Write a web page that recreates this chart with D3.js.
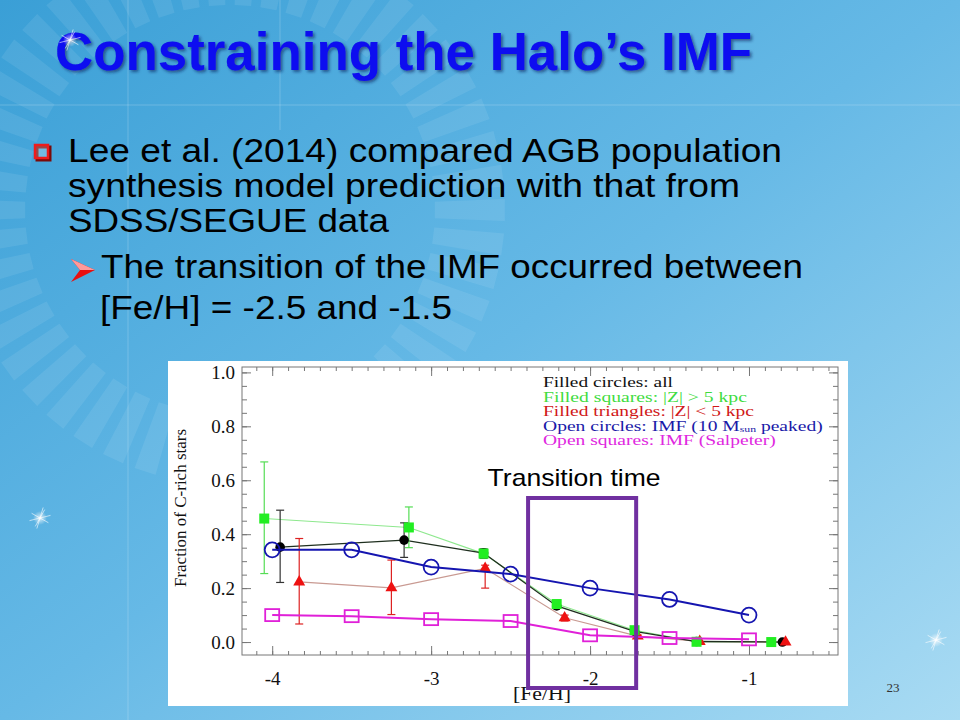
<!DOCTYPE html>
<html>
<head>
<meta charset="utf-8">
<script src="https://cdn.jsdelivr.net/npm/d3@7/dist/d3.min.js"></script>
<style>
  html, body { margin: 0; padding: 0; background: #fff; }
  svg { display: block; }
</style>
</head>
<body>
<svg id="slide" width="960" height="720"></svg>
<script>
// ---------------- DATA ----------------
const fehModel = [-4, -3.5, -3, -2.5, -2, -1.5, -1];
const imf10 = [0.342, 0.342, 0.278, 0.252, 0.200, 0.158, 0.100];
const imfSalpeter = [0.100, 0.096, 0.085, 0.078, 0.025, 0.015, 0.010];

const fehAll = [-3.95, -3.17, -2.67, -2.21, -1.72, -1.33, -0.79];
const fracAll = [0.352, 0.378, 0.330, 0.134, 0.040, 0.002, 0.000];
const fracAllLo = [0.221, 0.314, 0.312, 0.125, 0.035, 0.000, 0.000];
const fracAllHi = [0.489, 0.442, 0.345, 0.143, 0.045, 0.004, 0.001];

const fehHighZ = [-4.05, -3.14, -2.67, -2.21, -1.72, -1.33, -0.86];
const fracHighZ = [0.458, 0.425, 0.328, 0.141, 0.044, 0.001, 0.000];
const fracHighZLo = [0.254, 0.350, 0.310, 0.132, 0.036, 0.000, 0.000];
const fracHighZHi = [0.668, 0.501, 0.345, 0.150, 0.052, 0.004, 0.002];

const fehLowZ = [-3.83, -3.25, -2.66, -2.16, -1.70, -1.31, -0.77];
const fracLowZ = [0.223, 0.201, 0.273, 0.090, 0.022, 0.002, 0.000];
const fracLowZLo = [0.067, 0.102, 0.200, 0.078, 0.018, 0.000, 0.000];
const fracLowZHi = [0.384, 0.304, 0.285, 0.100, 0.026, 0.004, 0.001];

const xTicks = [-4, -3, -2, -1];
const yTicks = [0.0, 0.2, 0.4, 0.6, 0.8, 1.0];
const transitionRange = [-2.39, -1.71];

const legendLines = [
  {text: "Filled circles: all", color: "#111111", w: 130},
  {text: "Filled squares: |Z| > 5 kpc", color: "#3fdc3f", w: 204},
  {text: "Filled triangles: |Z| < 5 kpc", color: "#d01818", w: 211},
  {text: "Open circles: IMF (10 M", sub: "sun", after: " peaked)", color: "#1a1aa8", w: 280},
  {text: "Open squares: IMF (Salpeter)", color: "#e028e0", w: 233}
];

const titleText = "Constraining the Halo\u2019s IMF";
const bulletLines = [
  {text: "Lee et al. (2014) compared AGB population", x: 68, y: 162, w: 714},
  {text: "synthesis model prediction with that from", x: 68, y: 197, w: 672},
  {text: "SDSS/SEGUE data", x: 68, y: 232, w: 321},
  {text: "The transition of the IMF occurred between", x: 101, y: 278, w: 702},
  {text: "[Fe/H] = -2.5 and -1.5", x: 100, y: 319, w: 352}
];

// ---------------- SLIDE BACKGROUND ----------------
const svg = d3.select("#slide");
const defs = svg.append("defs");

const bg = defs.append("linearGradient").attr("id", "bg")
  .attr("x1", "0").attr("y1", "0").attr("x2", "1").attr("y2", "1");
bg.append("stop").attr("offset", "0").attr("stop-color", "#3a9fd6");
bg.append("stop").attr("offset", "0.5").attr("stop-color", "#66b9e6");
bg.append("stop").attr("offset", "1").attr("stop-color", "#a9dbf3");

const glow = defs.append("radialGradient").attr("id", "glow");
glow.append("stop").attr("offset", "0").attr("stop-color", "#ffffff").attr("stop-opacity", 1);
glow.append("stop").attr("offset", "0.3").attr("stop-color", "#ffffff").attr("stop-opacity", 0.55);
glow.append("stop").attr("offset", "1").attr("stop-color", "#ffffff").attr("stop-opacity", 0);

const shadow = defs.append("filter").attr("id", "tshadow")
  .attr("x", "-5%").attr("y", "-20%").attr("width", "110%").attr("height", "140%");
shadow.append("feGaussianBlur").attr("in", "SourceAlpha").attr("stdDeviation", 1.6).attr("result", "b");
shadow.append("feOffset").attr("in", "b").attr("dx", 2).attr("dy", 2).attr("result", "o");
shadow.append("feFlood").attr("flood-color", "#10205a").attr("flood-opacity", 0.6);
shadow.append("feComposite").attr("in2", "o").attr("operator", "in").attr("result", "s");
const m = shadow.append("feMerge");
m.append("feMergeNode").attr("in", "s");
m.append("feMergeNode").attr("in", "SourceGraphic");

svg.append("rect").attr("width", 960).attr("height", 720).attr("fill", "url(#bg)");

// faint sunburst rays
const rays = svg.append("g").attr("opacity", 0.08);
const cx0 = 230, cy0 = 210;
for (let i = 0; i < 50; i++) {
  const a = -Math.PI + i * (Math.PI * 2 / 50);
  const w = 0.04;
  const r1 = 205, r2 = 275;
  const pts = [
    [cx0 + r1 * Math.cos(a - w), cy0 + r1 * Math.sin(a - w)],
    [cx0 + r2 * Math.cos(a - w), cy0 + r2 * Math.sin(a - w)],
    [cx0 + r2 * Math.cos(a + w), cy0 + r2 * Math.sin(a + w)],
    [cx0 + r1 * Math.cos(a + w), cy0 + r1 * Math.sin(a + w)]
  ];
  rays.append("path").attr("d", "M" + pts.join("L") + "Z").attr("fill", "#ffffff");
}
// faint guide lines
const guides = svg.append("g").attr("stroke", "#ffffff").attr("stroke-opacity", 0.2).attr("stroke-width", 1);
guides.append("line").attr("x1", 128).attr("x2", 128).attr("y1", 0).attr("y2", 720);
guides.append("line").attr("x1", 280).attr("x2", 280).attr("y1", 0).attr("y2", 130);
guides.append("line").attr("x1", 0).attr("x2", 960).attr("y1", 105).attr("y2", 105);

// sparkles
function sparkle(x, y, s) {
  const g = svg.append("g").attr("transform", `translate(${x},${y})`);
  g.append("circle").attr("r", s).attr("fill", "url(#glow)");
  [[-1, 0.25], [0.3, -1], [0.8, 0.45], [-0.45, 0.8]].forEach(([dx, dy]) => {
    g.append("line").attr("x1", -dx * s * 1.5).attr("y1", -dy * s * 1.5)
      .attr("x2", dx * s * 1.5).attr("y2", dy * s * 1.5)
      .attr("stroke", "#ffffff").attr("stroke-opacity", 0.6).attr("stroke-width", 1);
  });
}

// ---------------- TITLE & BULLETS ----------------
svg.append("text").attr("x", 55).attr("y", 70)
  .attr("font-family", "Liberation Sans, Arial, sans-serif").attr("font-weight", "bold")
  .attr("font-size", 53).attr("fill", "#0a0af0")
  .attr("textLength", 697).attr("lengthAdjust", "spacingAndGlyphs")
  .attr("filter", "url(#tshadow)")
  .text(titleText);
sparkle(70, 40, 7);

// bullet square
svg.append("rect").attr("x", 37).attr("y", 147).attr("width", 13).attr("height", 13)
  .attr("fill", "none").attr("stroke", "#7a0a0a").attr("stroke-width", 3);
svg.append("rect").attr("x", 35).attr("y", 145).attr("width", 13).attr("height", 13)
  .attr("fill", "#ffffff").attr("fill-opacity", 0.25).attr("stroke", "#ee1c1c").attr("stroke-width", 2.5);
// arrow bullet
svg.append("path").attr("d", "M71,259 L95,270 L71,282 L80,270 Z").attr("fill", "#e81010");
svg.append("path").attr("d", "M71,259 L95,270 L80,270 Z").attr("fill", "#ff9a9a");

svg.append("g").selectAll("text").data(bulletLines).join("text")
  .attr("x", d => d.x).attr("y", d => d.y)
  .attr("font-family", "Liberation Sans, Arial, sans-serif")
  .attr("font-size", 34).attr("fill", "#000000")
  .attr("textLength", d => d.w).attr("lengthAdjust", "spacingAndGlyphs")
  .text(d => d.text);

sparkle(40, 518, 7);
sparkle(936, 640, 7);

svg.append("text").attr("x", 893).attr("y", 692).attr("text-anchor", "middle")
  .attr("font-family", "Liberation Serif, Times New Roman, serif").attr("font-size", 13)
  .attr("fill", "#333").text("23");

// ---------------- CHART ----------------
svg.append("rect").attr("x", 168).attr("y", 361).attr("width", 680).attr("height", 345).attr("fill", "#ffffff");

const L = 242, R = 838, T = 367, B = 655;
const x = d3.scaleLinear().domain([-4.19, -0.44]).range([L, R]);
const y = d3.scaleLinear().domain([-0.048, 1.02]).range([B, T]);
const serif = "Liberation Serif, Times New Roman, serif";
const axisColor = "#777";

const chart = svg.append("g");
chart.append("rect").attr("x", L).attr("y", T).attr("width", R - L).attr("height", B - T)
  .attr("fill", "none").attr("stroke", axisColor).attr("stroke-width", 1);

function styleAxis(g) {
  g.select(".domain").remove();
  g.selectAll(".tick line").attr("stroke", axisColor).attr("stroke-width", 1);
  g.selectAll(".tick text").attr("font-family", serif).attr("font-size", 19).attr("fill", "#111");
}
const xMinor = d3.range(-4.1, -0.44, 0.1).map(v => +v.toFixed(2));
const yMinor = d3.range(0, 1.0001, 0.05).map(v => +v.toFixed(2));

// bottom
chart.append("g").attr("transform", `translate(0,${B})`)
  .call(d3.axisBottom(x).tickValues(xTicks).tickSize(-9).tickPadding(17).tickFormat(d => String(d)))
  .call(styleAxis);
chart.append("g").attr("transform", `translate(0,${B})`)
  .call(d3.axisBottom(x).tickValues(xMinor).tickSize(-4).tickFormat(""))
  .call(styleAxis);
// top
chart.append("g").attr("transform", `translate(0,${T})`)
  .call(d3.axisTop(x).tickValues(xTicks).tickSize(-9).tickFormat(""))
  .call(styleAxis);
chart.append("g").attr("transform", `translate(0,${T})`)
  .call(d3.axisTop(x).tickValues(xMinor).tickSize(-4).tickFormat(""))
  .call(styleAxis);
// left
chart.append("g").attr("transform", `translate(${L},0)`)
  .call(d3.axisLeft(y).tickValues(yTicks).tickSize(-9).tickPadding(7).tickFormat(d => d.toFixed(1)))
  .call(styleAxis);
chart.append("g").attr("transform", `translate(${L},0)`)
  .call(d3.axisLeft(y).tickValues(yMinor).tickSize(-5).tickFormat(""))
  .call(styleAxis);
// right
chart.append("g").attr("transform", `translate(${R},0)`)
  .call(d3.axisRight(y).tickValues(yTicks).tickSize(-9).tickFormat(""))
  .call(styleAxis);
chart.append("g").attr("transform", `translate(${R},0)`)
  .call(d3.axisRight(y).tickValues(yMinor).tickSize(-5).tickFormat(""))
  .call(styleAxis);

// axis titles
chart.append("text").attr("transform", `translate(186,508) rotate(-90)`)
  .attr("text-anchor", "middle").attr("font-family", serif).attr("font-size", 17)
  .attr("fill", "#111").text("Fraction of C-rich stars");
chart.append("text").attr("x", 542).attr("y", 700).attr("text-anchor", "middle")
  .attr("font-family", serif).attr("font-size", 19).attr("fill", "#111")
  .attr("textLength", 58).attr("lengthAdjust", "spacingAndGlyphs").text("[Fe/H]");

// legend (horizontally stretched like the reference image)
const lg = chart.append("g");
legendLines.forEach((d, i) => {
  const t = lg.append("text").attr("x", 0).attr("y", 0)
    .attr("font-family", serif).attr("font-size", 12.5).attr("fill", d.color);
  t.append("tspan").text(d.text);
  if (d.sub) {
    t.append("tspan").attr("font-size", 7.5).attr("dy", 1.5).text(d.sub);
    t.append("tspan").attr("dy", -1.5).text(d.after);
  }
  const w = t.node().getComputedTextLength();
  t.attr("transform", `translate(543,${387 + i * 14.6}) scale(${d.w / w},1.1)`);
});

const line = d3.line().x(d => x(d[0])).y(d => y(d[1]));
const zip = (a, b) => a.map((v, i) => [v, b[i]]);

// observational lines
chart.append("path").datum(zip(fehHighZ, fracHighZ)).attr("d", line)
  .attr("fill", "none").attr("stroke", "#8ee88e").attr("stroke-width", 1.1);
chart.append("path").datum(zip(fehLowZ, fracLowZ)).attr("d", line)
  .attr("fill", "none").attr("stroke", "#c99a92").attr("stroke-width", 1.1);
chart.append("path").datum(zip(fehAll, fracAll)).attr("d", line)
  .attr("fill", "none").attr("stroke", "#1f2f1f").attr("stroke-width", 1.3);

// error bars
function errorBars(xs, lo, hi, color) {
  const g = chart.append("g").attr("stroke", color).attr("stroke-width", 1.2);
  xs.forEach((xv, i) => {
    if (hi[i] - lo[i] < 0.006) return;
    const px = x(xv);
    g.append("line").attr("x1", px).attr("x2", px).attr("y1", y(lo[i])).attr("y2", y(hi[i]));
    g.append("line").attr("x1", px - 4).attr("x2", px + 4).attr("y1", y(lo[i])).attr("y2", y(lo[i]));
    g.append("line").attr("x1", px - 4).attr("x2", px + 4).attr("y1", y(hi[i])).attr("y2", y(hi[i]));
  });
}
errorBars(fehHighZ, fracHighZLo, fracHighZHi, "#55dd55");
errorBars(fehAll, fracAllLo, fracAllHi, "#333333");
errorBars(fehLowZ, fracLowZLo, fracLowZHi, "#dd2222");

// black filled circles
chart.append("g").selectAll("circle").data(zip(fehAll, fracAll)).join("circle")
  .attr("cx", d => x(d[0])).attr("cy", d => y(d[1])).attr("r", 4.8).attr("fill", "#000");
// red triangles
const tri = d3.symbol().type(d3.symbolTriangle).size(62);
chart.append("g").selectAll("path").data(zip(fehLowZ, fracLowZ)).join("path")
  .attr("transform", d => `translate(${x(d[0])},${y(d[1])})`).attr("d", tri).attr("fill", "#ee1111");
// green squares
chart.append("g").selectAll("rect").data(zip(fehHighZ, fracHighZ)).join("rect")
  .attr("x", d => x(d[0]) - 5).attr("y", d => y(d[1]) - 5).attr("width", 10).attr("height", 10)
  .attr("fill", "#22ee22");

// IMF 10 Msun peaked model (open circles)
chart.append("path").datum(zip(fehModel, imf10)).attr("d", line)
  .attr("fill", "none").attr("stroke", "#1515b0").attr("stroke-width", 2);
chart.append("g").selectAll("circle").data(zip(fehModel, imf10)).join("circle")
  .attr("cx", d => x(d[0])).attr("cy", d => y(d[1])).attr("r", 7.5)
  .attr("fill", "none").attr("stroke", "#1515b0").attr("stroke-width", 1.8);

// Salpeter model (open squares)
chart.append("path").datum(zip(fehModel, imfSalpeter)).attr("d", line)
  .attr("fill", "none").attr("stroke", "#e020d8").attr("stroke-width", 2);
chart.append("g").selectAll("rect").data(zip(fehModel, imfSalpeter)).join("rect")
  .attr("x", d => x(d[0]) - 7).attr("y", d => y(d[1]) - 6).attr("width", 14).attr("height", 12)
  .attr("fill", "none").attr("stroke", "#e020d8").attr("stroke-width", 1.8);

// transition annotation
const bx0 = x(transitionRange[0]), bx1 = x(transitionRange[1]);
chart.append("text").attr("x", (bx0 + bx1) / 2 - 8).attr("y", 486).attr("text-anchor", "middle")
  .attr("font-family", "Liberation Sans, Arial, sans-serif").attr("font-size", 24)
  .attr("textLength", 173).attr("lengthAdjust", "spacingAndGlyphs")
  .attr("fill", "#000").text("Transition time");
chart.append("rect").attr("x", bx0).attr("y", 498).attr("width", bx1 - bx0)
  .attr("height", 190).attr("fill", "none").attr("stroke", "#7030a0").attr("stroke-width", 4);
</script>
</body>
</html>
